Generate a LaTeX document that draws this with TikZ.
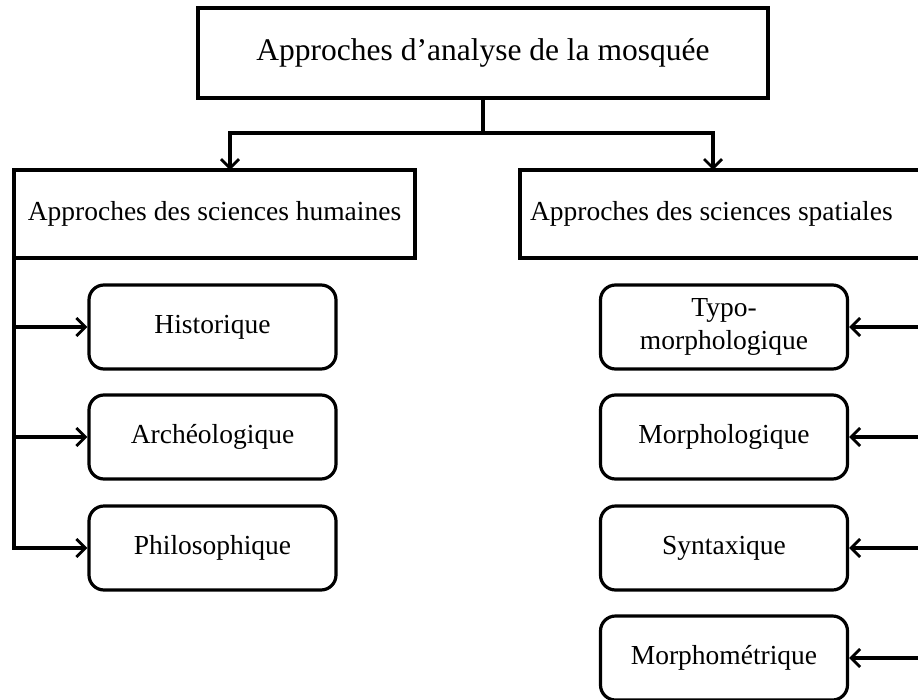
\documentclass[tikz,border=0pt]{standalone}
\usepackage{fontspec}
\setmainfont{Liberation Serif}
\usetikzlibrary{arrows.meta}
\begin{document}
\begin{tikzpicture}[x=1pt,y=-1pt,line width=3.2pt,
  box/.style={draw,rectangle,inner sep=0pt,font=\fontsize{27.5}{32}\selectfont},
  leaf/.style={draw,rectangle,rounded corners=15pt,minimum width=247pt,minimum height=84pt,
    inner sep=2pt,align=center,font=\fontsize{27.5}{33}\selectfont},
  link/.style={-{Straight Barb[length=9pt,width=18pt,line width=2.8pt]}}]
\useasboundingbox (0,0) rectangle (918,699);

% root and the two families of approaches
\node[box,minimum width=570pt,minimum height=90pt,font=\fontsize{31.5}{36}\selectfont] (root) at (483,53) {Approches d’analyse de la mosquée};
\node[box,minimum width=401pt,minimum height=88pt] (hum) at (214.5,214) {Approches des sciences humaines};
\node[box,minimum width=420pt,minimum height=88pt] (spa) at (730,214) {\makebox[400pt][l]{Approches des sciences spatiales}};

% split from the root
\coordinate (mid) at (483,133);
\coordinate (humtop) at (230,170);
\coordinate (spatop) at (713,170);
\draw (root.south) -- (mid);
\draw[link] (mid) -| (humtop);
\draw[link] (mid) -| (spatop);

% humanities approaches
\node[leaf] (hist) at (212.5,327) {Historique};
\node[leaf] (arch) at (212.5,437) {Archéologique};
\node[leaf] (phil) at (212.5,548) {Philosophique};
\coordinate (ht) at (14,258);
\coordinate (hs) at (14,548);
\draw[line cap=rect] (ht) -- (hs);
\draw[link] (14,327) -- (hist.west);
\draw[link] (14,437) -- (arch.west);
\draw[link] (hs) -- (phil.west);

% spatial approaches
\node[leaf] (typo) at (724,327) {Typo-\\morphologique};
\node[leaf] (morp) at (724,437) {Morphologique};
\node[leaf] (synt) at (724,548) {Syntaxique};
\node[leaf] (metr) at (724,658) {Morphométrique};
\coordinate (st) at (922,258);
\coordinate (ss) at (922,658);
\draw (st) -- (ss);
\draw[link] (922,327) -- (typo.east);
\draw[link] (922,437) -- (morp.east);
\draw[link] (922,548) -- (synt.east);
\draw[link] (ss) -- (metr.east);
\end{tikzpicture}
\end{document}
